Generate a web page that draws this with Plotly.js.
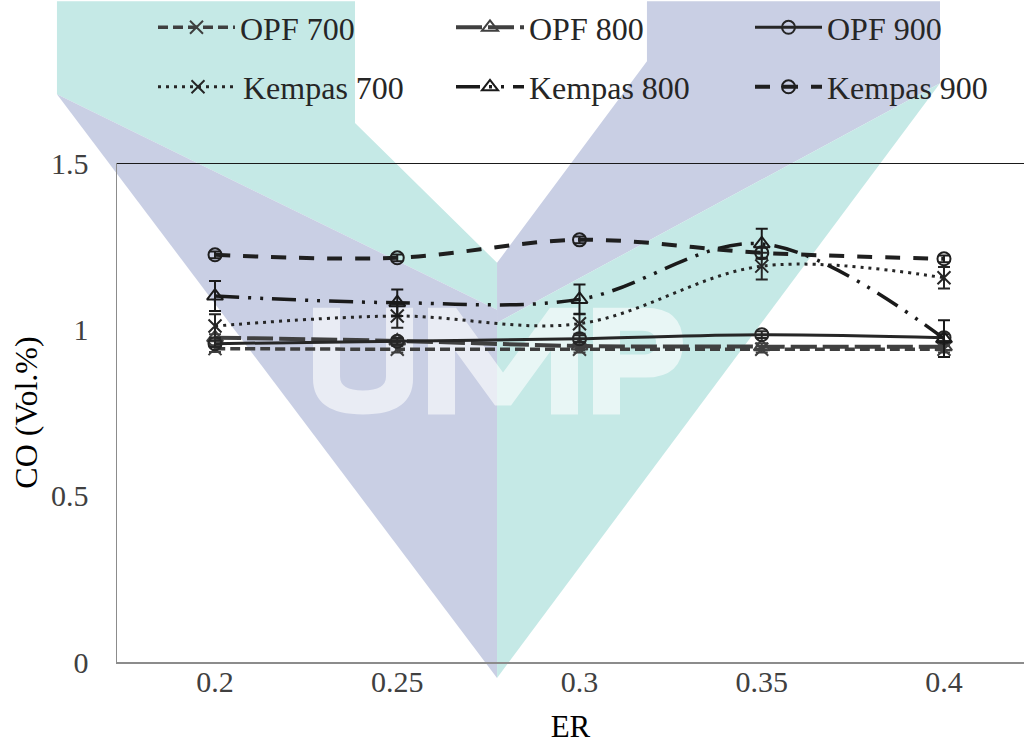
<!DOCTYPE html>
<html>
<head>
<meta charset="utf-8">
<script src="https://cdn.plot.ly/plotly-3.0.1.min.js"></script>
<style>
  html, body { margin: 0; padding: 0; background: #ffffff; }
  #chart { width: 1024px; height: 744px; }
</style>
</head>
<body>
<div id="chart"></div>
<script>
// Equivalence ratio (ER) categories and tick labels
const er = [0.2, 0.25, 0.3, 0.35, 0.4];
const erLabels = ['0.2', '0.25', '0.3', '0.35', '0.4'];
const coTicks = [0, 0.5, 1, 1.5];
const coTickLabels = ['0', '0.5', '1', '1.5'];

// CO concentration (Vol.%) for each feedstock / temperature
const opf700 = [0.942, 0.940, 0.940, 0.940, 0.940];
const opf800 = [0.975, 0.965, 0.950, 0.948, 0.948];
const opf900 = [0.957, 0.964, 0.972, 0.984, 0.975];
const kempas700 = [1.010, 1.040, 1.017, 1.190, 1.155];
const kempas800 = [1.100, 1.080, 1.090, 1.257, 0.972];
const kempas900 = [1.224, 1.215, 1.269, 1.230, 1.212];

// Standard deviations (error bars)
const opf700Err = [0.010, 0.010, 0.010, 0.010, 0.010];
const opf800Err = [0.010, 0.010, 0.010, 0.010, 0.010];
const opf900Err = [0.010, 0.010, 0.010, 0.010, 0.010];
const kempas700Err = [0.035, 0.035, 0.030, 0.040, 0.032];
const kempas800Err = [0.045, 0.040, 0.045, 0.045, 0.055];
const kempas900Err = [0.010, 0.010, 0.010, 0.015, 0.010];

function series(name, y, err, style) {
  return {
    type: 'scatter',
    mode: 'lines+markers',
    name: name,
    x: er,
    y: y,
    legend: style.legend,
    line: { color: style.color, width: style.width, dash: style.dash, shape: 'spline', smoothing: 1 },
    marker: {
      symbol: style.symbol,
      size: style.size || 13,
      color: style.color,
      line: { color: style.color, width: 2 }
    },
    error_y: { type: 'data', array: err, visible: true, color: style.color, thickness: 2, width: 6 }
  };
}

const traces = [
  series('OPF 700', opf700, opf700Err, { legend: 'legend', color: '#3f3f3f', width: 3.5, dash: '10px,5px', symbol: 'x-thin-open' }),
  series('OPF 800', opf800, opf800Err, { legend: 'legend2', color: '#404040', width: 4, dash: '26px,6px', symbol: 'triangle-up-open', size: 14 }),
  series('OPF 900', opf900, opf900Err, { legend: 'legend3', color: '#262626', width: 3, dash: 'solid', symbol: 'circle-open' }),
  series('Kempas 700', kempas700, kempas700Err, { legend: 'legend4', color: '#262626', width: 3, dash: '3px,5px', symbol: 'x-thin-open' }),
  series('Kempas 800', kempas800, kempas800Err, { legend: 'legend5', color: '#1a1a1a', width: 3.5, dash: '24px,9px,3px,9px,3px,9px', symbol: 'triangle-up-open', size: 14 }),
  series('Kempas 900', kempas900, kempas900Err, { legend: 'legend6', color: '#1f1f1f', width: 4, dash: '15px,13px', symbol: 'circle-open' })
];

// Background emblem, laid out in page pixels and converted to paper units
const PLOT = { l: 117, r: 1024, t: 162, b: 662 };
function px(x, y) {
  return ((x - PLOT.l) / (PLOT.r - PLOT.l)).toFixed(4) + ',' + ((PLOT.b - y) / (PLOT.b - PLOT.t)).toFixed(4);
}
function pathFrom(cmds) {
  return cmds.map(c => {
    if (c[0] === 'Z') return 'Z';
    const pts = [];
    for (let i = 1; i < c.length; i += 2) pts.push(px(c[i], c[i + 1]));
    return c[0] + pts.join(' ');
  }).join(' ');
}
function poly(pts) {
  return pathFrom(pts.map((p, i) => [i ? 'L' : 'M', p[0], p[1]]).concat([['Z']]));
}
const teal = 'rgb(197,233,230)';
const lav = 'rgb(201,207,228)';
function area(path, color, extra) {
  return Object.assign({ type: 'path', xref: 'paper', yref: 'paper', layer: 'below',
    path: path, fillcolor: color, line: { width: 0 } }, extra || {});
}
const emblem = [
  area(poly([[57, 0], [355, 0], [355, 122], [497, 262], [497, 309], [57, 93]]), teal),
  area(poly([[57, 93], [497, 309], [497, 678]]), lav),
  area(poly([[647, 0], [940, 0], [940, 82], [497, 322], [497, 262], [647, 60]]), lav),
  area(poly([[940, 82], [497, 322], [497, 678]]), teal),
  // U
  area(pathFrom([['M', 313, 307], ['L', 313, 378], ['Q', 313, 414, 363, 414], ['Q', 413, 414, 413, 378],
    ['L', 413, 307], ['L', 386, 307], ['L', 386, 376], ['Q', 386, 390, 363, 390], ['Q', 340, 390, 340, 376],
    ['L', 340, 307], ['Z']]), '#ffffff', { opacity: 0.6 }),
  // M
  area(poly([[428, 414], [428, 307], [456, 307], [503, 372], [550, 307], [578, 307], [578, 414],
    [551, 414], [551, 350], [511, 405], [495, 405], [455, 350], [455, 414]]), '#ffffff', { opacity: 0.6 }),
  // P
  area(pathFrom([['M', 593, 414], ['L', 593, 307], ['L', 645, 307], ['Q', 683, 307, 683, 342],
    ['Q', 683, 377, 645, 377], ['L', 620, 377], ['L', 620, 414], ['Z'],
    ['M', 620, 330], ['L', 642, 330], ['Q', 656, 330, 656, 342], ['Q', 656, 354, 642, 354], ['L', 620, 354], ['Z']]),
    '#ffffff', { opacity: 0.6, fillrule: 'evenodd' })
];

// Upper frame line of the plot area
const frame = [{ type: 'line', xref: 'paper', yref: 'y', x0: 0, x1: 1, y0: 1.5, y1: 1.5,
  line: { color: '#1a1a1a', width: 2 }, layer: 'above' }];

const serif = '"Liberation Serif", "Times New Roman", serif';

// One single-entry legend per slot: three columns, two rows above the plot
function legendSlot(colX, rowY, itemwidth) {
  return {
    orientation: 'v', xanchor: 'left', yanchor: 'middle',
    x: (colX - PLOT.l) / (PLOT.r - PLOT.l),
    y: (PLOT.b - rowY) / (PLOT.b - PLOT.t),
    bgcolor: 'rgba(0,0,0,0)', borderwidth: 0, itemwidth: itemwidth,
    font: { family: serif, size: 32, color: '#262626' },
    itemclick: false, itemdoubleclick: false
  };
}

const layout = {
  width: 1024,
  height: 744,
  margin: { l: 117, r: 0, t: 162, b: 82 },
  paper_bgcolor: '#ffffff',
  plot_bgcolor: 'rgba(0,0,0,0)',
  font: { family: serif, size: 30, color: '#404040' },
  showlegend: true,
  legend: legendSlot(153, 26, 77),
  legend2: legendSlot(451, 26, 68),
  legend3: legendSlot(750, 26, 67),
  legend4: legendSlot(153, 87, 80),
  legend5: legendSlot(451, 87, 68),
  legend6: legendSlot(750, 87, 67),
  xaxis: {
    range: [0.17311, 0.42195],
    tickvals: er,
    ticktext: erLabels,
    showgrid: false,
    zeroline: false,
    showline: true,
    linecolor: '#8c8c8c',
    linewidth: 2,
    ticks: '',
    ticklabelstandoff: -8,
    tickfont: { family: serif, size: 30, color: '#404040' },
    title: { text: 'ER', font: { family: serif, size: 31, color: '#000000' }, standoff: 20 }
  },
  yaxis: {
    range: [0, 1.5],
    tickvals: coTicks,
    ticktext: coTickLabels,
    showgrid: false,
    zeroline: false,
    showline: true,
    linecolor: '#8c8c8c',
    linewidth: 1.5,
    ticks: '',
    ticklabelstandoff: 21,
    tickfont: { family: serif, size: 30, color: '#404040' },
    title: { text: 'CO (Vol.%)', font: { family: serif, size: 32, color: '#000000' }, standoff: 4 }
  },
  shapes: emblem.concat(frame)
};

Plotly.newPlot('chart', traces, layout, { displayModeBar: false, staticPlot: true });
</script>
</body>
</html>
